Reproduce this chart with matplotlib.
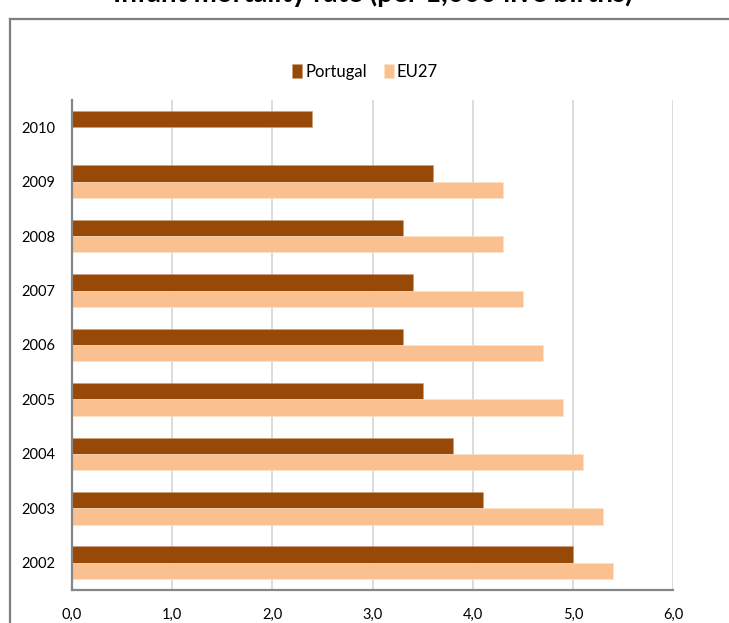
import matplotlib
matplotlib.use("Agg")
import matplotlib.pyplot as plt
from matplotlib.lines import Line2D
from matplotlib.ticker import FuncFormatter
import numpy as np

# infant mortality rate, per 1,000 live births
years = ['2002', '2003', '2004', '2005', '2006', '2007', '2008', '2009', '2010']
portugal = [5.0, 4.1, 3.8, 3.5, 3.3, 3.4, 3.3, 3.6, 2.4]
eu27 = [5.4, 5.3, 5.1, 4.9, 4.7, 4.5, 4.3, 4.3, np.nan]

col_pt = '#984807'
col_eu = '#fac090'
grid_col = '#d9d9d9'
axis_col = '#868686'

plt.rcParams['font.family'] = ['Lato', 'DejaVu Sans']

fig = plt.figure(figsize=(7.29, 6.23), dpi=100)
ax = fig.add_axes([72/729, 1 - 590/623, (673 - 72)/729, 490/623])

y = np.arange(len(years))
h = 0.30
ax.barh(y + h/2, portugal, height=h, color=col_pt, edgecolor='#c8a080',
        linewidth=0.4, label='Portugal', zorder=3)
ax.barh(y - h/2, eu27, height=h, color=col_eu, edgecolor='#fde3cc',
        linewidth=0.4, label='EU27', zorder=3)

ax.set_xlim(0, 6)
ax.set_ylim(-0.5, len(years) - 0.5)
ax.set_xticks(np.arange(0, 7, 1))
ax.xaxis.set_major_formatter(FuncFormatter(lambda v, p: f'{v:.1f}'.replace('.', ',')))
ax.set_yticks(y)
ax.set_yticklabels(years)
ax.tick_params(axis='both', length=0, labelsize=10.5, colors='#000000')
ax.tick_params(axis='x', pad=13)
ax.tick_params(axis='y', pad=12)

ax.grid(axis='x', color=grid_col, linewidth=1.3, zorder=0)
ax.set_axisbelow(True)
for s in ['top', 'right']:
    ax.spines[s].set_visible(False)
ax.spines['left'].set_color(axis_col)
ax.spines['left'].set_linewidth(1.6)
ax.spines['bottom'].set_color(axis_col)
ax.spines['bottom'].set_linewidth(1.6)
ax.spines['left'].set_zorder(4)

fig.legend(loc='center', bbox_to_anchor=(365/729, 1 - 72/623), ncol=2,
           frameon=False, fontsize=12, handlelength=0.6, handleheight=0.9,
           handletextpad=0.2, columnspacing=1.0)

# chart frame (top and left edges, the rest runs off the page)
fy = 1 - 18.5/623
fx = 9.5/729
fig.add_artist(Line2D([fx, 1], [fy, fy], transform=fig.transFigure,
                      color='#7f7f7f', linewidth=1.6))
fig.add_artist(Line2D([fx, fx], [0, fy], transform=fig.transFigure,
                      color='#7f7f7f', linewidth=1.6))

fig.text(373/729, 1 - 2/623, 'Infant mortality rate (per 1,000 live births)',
         ha='center', va='baseline', fontsize=20, fontweight='bold')

fig.savefig('out.png', dpi=100)
